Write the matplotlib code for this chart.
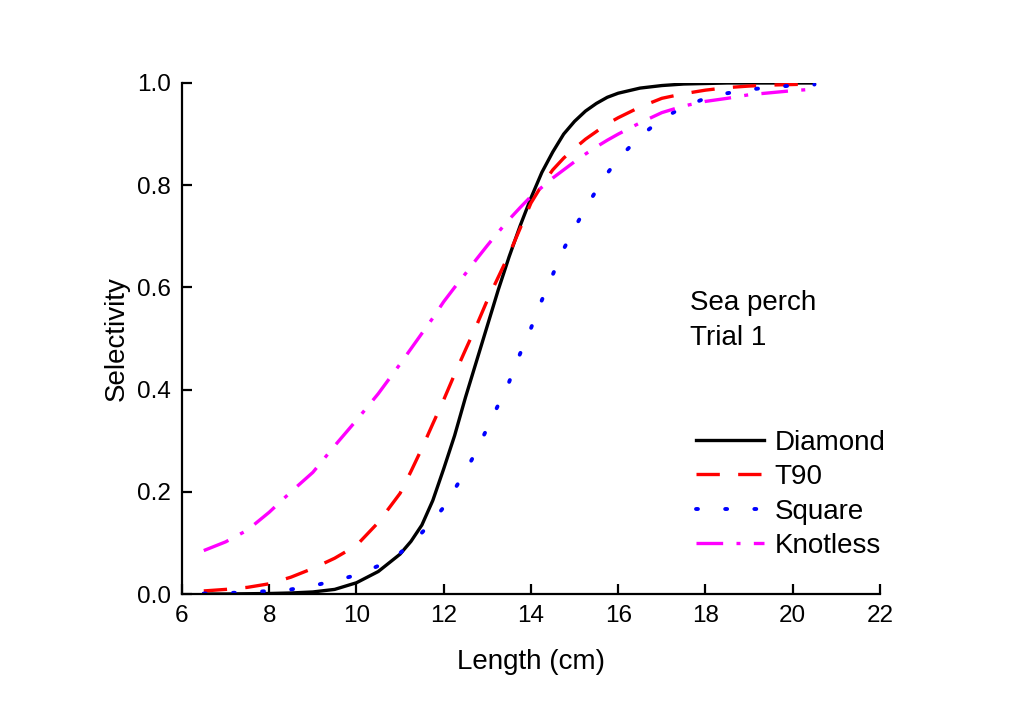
import matplotlib
matplotlib.use("Agg")
import matplotlib.pyplot as plt

# fish length (cm) and selectivity
length = [6.5, 7, 7.5, 8, 8.5, 9, 9.5, 10, 10.5,
          11, 11.25, 11.5, 11.75, 12, 12.25, 12.5, 12.75, 13, 13.25, 13.5, 13.75,
          14, 14.25, 14.5, 14.75, 15, 15.25, 15.5, 15.75, 16,
          16.5, 17, 17.5, 18, 18.5, 19, 19.5, 20, 20.5]

diamond = [0.0, 0.0, 0.0005, 0.001, 0.002, 0.004, 0.009, 0.022, 0.044,
           0.078, 0.103, 0.135, 0.183, 0.245, 0.31, 0.385, 0.455, 0.525, 0.595, 0.66, 0.72,
           0.775, 0.825, 0.865, 0.9, 0.925, 0.945, 0.96, 0.972, 0.98,
           0.99, 0.995, 0.998, 0.999, 1.0, 1.0, 1.0, 1.0, 1.0]
t90 = [0.006, 0.009, 0.013, 0.02, 0.033, 0.05, 0.07, 0.095, 0.14,
       0.197, 0.24, 0.285, 0.333, 0.38, 0.43, 0.478, 0.525, 0.575, 0.62, 0.665, 0.715,
       0.765, 0.8, 0.83, 0.853, 0.872, 0.89, 0.905, 0.92, 0.932,
       0.953, 0.97, 0.979, 0.986, 0.991, 0.994, 0.996, 0.997, 0.998]
square = [0.001, 0.002, 0.003, 0.006, 0.009, 0.016, 0.026, 0.037, 0.055,
          0.08, 0.1, 0.12, 0.143, 0.17, 0.205, 0.24, 0.28, 0.325, 0.37, 0.415, 0.47,
          0.52, 0.575, 0.625, 0.675, 0.716, 0.755, 0.79, 0.823, 0.852,
          0.895, 0.93, 0.953, 0.97, 0.98, 0.987, 0.992, 0.995, 0.997]
knotless = [0.085, 0.102, 0.125, 0.16, 0.2, 0.238, 0.29, 0.34, 0.392,
            0.45, 0.48, 0.51, 0.54, 0.572, 0.6, 0.627, 0.655, 0.682, 0.708, 0.733, 0.756,
            0.778, 0.796, 0.814, 0.83, 0.846, 0.861, 0.875, 0.888, 0.9,
            0.922, 0.942, 0.955, 0.964, 0.97, 0.977, 0.981, 0.985, 0.988]

plt.rcParams['font.family'] = ['Liberation Sans', 'DejaVu Sans']

fig = plt.figure(figsize=(10.24, 7.13), dpi=100)
ax = fig.add_axes([0.1777, 0.1669, 0.6816, 0.7167])

ax.plot(length, diamond, color='black', lw=2.4, label='Diamond')
ax.plot(length, t90, color='red', lw=2.4, dashes=(7, 5.5), label='T90')
ax.plot(length, square, color='blue', lw=2.8, dashes=(0.5, 7),
        dash_capstyle='round', label='Square')
ax.plot(length, knotless, color='magenta', lw=2.4, dashes=(8, 4, 1.2, 4),
        label='Knotless')

ax.set_xlim(6, 22)
ax.set_ylim(0, 1.0)
ax.set_xticks(range(6, 23, 2))
ax.set_yticks([0.0, 0.2, 0.4, 0.6, 0.8, 1.0])
ax.set_yticklabels(['0.0', '0.2', '0.4', '0.6', '0.8', '1.0'])

for s in ['top', 'right']:
    ax.spines[s].set_visible(False)
for s in ['left', 'bottom']:
    ax.spines[s].set_linewidth(1.6)
ax.tick_params(direction='in', length=7, width=1.6, labelsize=17.5, pad=8)

ax.set_xlabel('Length (cm)', fontsize=20, labelpad=16)
ax.set_ylabel('Selectivity', fontsize=20, labelpad=5)

ax.text(0.728, 0.595, 'Sea perch\nTrial 1', transform=ax.transAxes,
        fontsize=20, va='top', ha='left', linespacing=1.45)

ax.legend(loc='upper left', bbox_to_anchor=(0.72, 0.343), frameon=False,
          fontsize=20, handlelength=2.45, handletextpad=0.4,
          labelspacing=0.3, borderaxespad=0)

fig.savefig('out.png', dpi=100)
